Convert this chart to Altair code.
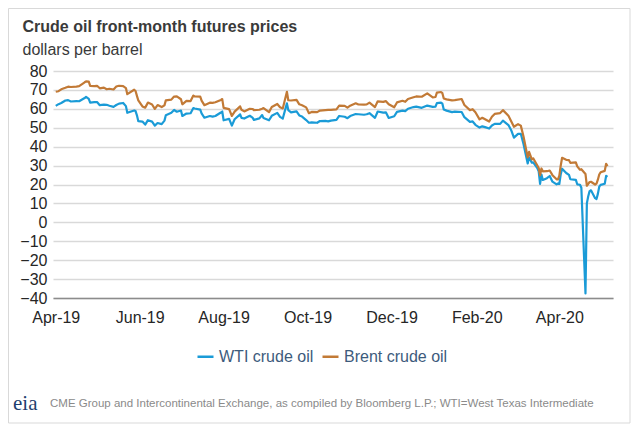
import altair as alt
import pandas as pd

# ---------------- data ----------------
dates = [
    "2019-04-01", "2019-04-03", "2019-04-05", "2019-04-08", "2019-04-10", "2019-04-12",
    "2019-04-16", "2019-04-18", "2019-04-22", "2019-04-23", "2019-04-25", "2019-04-26",
    "2019-04-29", "2019-05-01", "2019-05-03", "2019-05-06", "2019-05-08", "2019-05-10",
    "2019-05-13", "2019-05-15", "2019-05-17", "2019-05-20", "2019-05-22", "2019-05-23",
    "2019-05-28", "2019-05-29", "2019-05-30", "2019-05-31", "2019-06-03", "2019-06-05",
    "2019-06-07", "2019-06-10", "2019-06-12", "2019-06-14", "2019-06-17", "2019-06-19",
    "2019-06-20", "2019-06-24", "2019-06-26", "2019-06-28", "2019-07-01", "2019-07-02",
    "2019-07-05", "2019-07-08", "2019-07-10", "2019-07-11", "2019-07-15", "2019-07-16",
    "2019-07-18", "2019-07-22", "2019-07-24", "2019-07-26", "2019-07-30", "2019-07-31",
    "2019-08-01", "2019-08-05", "2019-08-07", "2019-08-09", "2019-08-13", "2019-08-14",
    "2019-08-16", "2019-08-20", "2019-08-22", "2019-08-23", "2019-08-27", "2019-08-29",
    "2019-08-30", "2019-09-03", "2019-09-05", "2019-09-09", "2019-09-11", "2019-09-13",
    "2019-09-16", "2019-09-17", "2019-09-19", "2019-09-23", "2019-09-25", "2019-09-27",
    "2019-09-30", "2019-10-02", "2019-10-04", "2019-10-08", "2019-10-10", "2019-10-14",
    "2019-10-16", "2019-10-18", "2019-10-22", "2019-10-24", "2019-10-28", "2019-10-30",
    "2019-11-01", "2019-11-05", "2019-11-07", "2019-11-11", "2019-11-13", "2019-11-15",
    "2019-11-19", "2019-11-21", "2019-11-25", "2019-11-27", "2019-11-29", "2019-12-03",
    "2019-12-05", "2019-12-09", "2019-12-11", "2019-12-13", "2019-12-17", "2019-12-19",
    "2019-12-23", "2019-12-27", "2019-12-31", "2020-01-02", "2020-01-03", "2020-01-06",
    "2020-01-07", "2020-01-08", "2020-01-10", "2020-01-14", "2020-01-16", "2020-01-21",
    "2020-01-23", "2020-01-27", "2020-01-29", "2020-01-31", "2020-02-03", "2020-02-05",
    "2020-02-07", "2020-02-10", "2020-02-12", "2020-02-14", "2020-02-18", "2020-02-20",
    "2020-02-24", "2020-02-26", "2020-02-28", "2020-03-02", "2020-03-04", "2020-03-06",
    "2020-03-09", "2020-03-10", "2020-03-12", "2020-03-13", "2020-03-16", "2020-03-17",
    "2020-03-18", "2020-03-19", "2020-03-20", "2020-03-23", "2020-03-25", "2020-03-27",
    "2020-03-30", "2020-03-31", "2020-04-01", "2020-04-02", "2020-04-03", "2020-04-06",
    "2020-04-08", "2020-04-09", "2020-04-13", "2020-04-14", "2020-04-16", "2020-04-17",
    "2020-04-20", "2020-04-21", "2020-04-22", "2020-04-23", "2020-04-24", "2020-04-27",
    "2020-04-28", "2020-04-29", "2020-04-30", "2020-05-01", "2020-05-04", "2020-05-05",
    "2020-05-06",
]

wti = [
    61.59, 62.46, 63.08, 64.40, 64.61, 63.89, 64.05, 64.00, 65.70, 66.30, 65.21, 63.30,
    63.50, 63.60, 61.94, 62.25, 62.12, 61.66, 61.04, 62.02, 62.76, 63.10, 61.42, 57.91,
    59.14, 58.81, 56.59, 53.50, 53.25, 51.68, 53.99, 53.26, 51.14, 52.51, 51.93, 53.76,
    56.65, 57.90, 59.38, 58.47, 59.09, 56.25, 57.51, 57.66, 60.43, 60.20, 59.58, 57.62,
    55.30, 56.22, 55.88, 56.20, 58.05, 58.58, 53.95, 54.69, 51.09, 54.50, 57.10, 55.23,
    54.87, 56.34, 55.35, 54.17, 54.93, 56.71, 55.10, 53.94, 56.30, 57.85, 55.75, 54.85,
    62.90, 59.34, 58.13, 58.64, 56.49, 55.91, 54.07, 52.64, 52.81, 52.63, 53.55, 53.59,
    53.36, 53.78, 54.16, 56.23, 55.81, 55.06, 56.20, 57.23, 57.15, 56.86, 57.12, 57.72,
    55.21, 58.58, 58.01, 58.11, 55.17, 56.10, 58.43, 59.02, 58.76, 60.07, 60.94, 61.18,
    60.52, 61.72, 61.06, 61.18, 63.05, 63.27, 62.70, 59.61, 59.04, 58.23, 58.52, 58.34,
    55.59, 53.14, 53.33, 51.56, 50.11, 50.75, 50.32, 49.57, 51.17, 52.05, 52.05, 53.78,
    51.43, 48.73, 44.76, 46.75, 46.78, 41.28, 31.13, 34.36, 31.50, 31.73, 28.70, 26.95,
    20.37, 25.22, 22.43, 23.36, 24.49, 21.51, 20.09, 20.48, 20.31, 25.32, 28.34, 26.08,
    25.09, 22.76, 22.41, 20.11, 19.87, 18.27, -37.63, 10.01, 13.78, 16.50, 16.94, 12.78,
    12.34, 15.06, 18.84, 19.78, 20.39, 24.56, 23.99,
]

brent = [
    69.01, 69.31, 70.34, 71.10, 71.73, 71.55, 71.72, 71.97, 74.04, 74.51, 74.35, 72.15,
    72.04, 72.18, 70.85, 71.24, 70.37, 70.62, 70.23, 71.77, 72.21, 71.97, 70.99, 67.76,
    70.11, 69.45, 66.87, 64.49, 61.28, 60.63, 63.29, 62.29, 59.97, 62.01, 60.94, 61.82,
    64.45, 64.86, 66.49, 66.55, 65.06, 62.40, 64.23, 64.11, 67.01, 66.52, 66.48, 64.35,
    61.93, 63.26, 63.18, 63.46, 64.72, 65.17, 60.50, 59.81, 56.23, 58.53, 61.30, 59.48,
    58.64, 60.03, 59.92, 59.34, 59.51, 60.08, 60.43, 58.26, 60.95, 62.59, 60.81, 60.22,
    69.02, 64.55, 64.40, 64.77, 62.39, 61.91, 60.78, 57.69, 58.37, 58.24, 59.10, 59.35,
    59.42, 59.42, 59.70, 61.67, 61.57, 60.61, 61.69, 62.96, 62.29, 62.18, 62.37, 63.30,
    60.91, 63.97, 63.65, 64.06, 62.43, 60.82, 63.39, 64.25, 63.72, 65.22, 66.10, 66.54,
    66.39, 68.16, 66.00, 66.25, 68.60, 68.91, 68.27, 65.44, 64.98, 64.49, 64.62, 65.20,
    62.04, 59.32, 59.81, 58.16, 54.45, 55.28, 54.47, 53.27, 55.79, 57.32, 57.75, 59.31,
    56.30, 53.43, 50.52, 51.90, 51.13, 45.27, 34.36, 37.22, 33.22, 33.85, 30.05, 28.73,
    24.88, 28.47, 26.98, 27.03, 27.39, 24.93, 22.76, 22.74, 24.74, 29.94, 34.11, 33.05,
    32.84, 31.48, 31.74, 29.60, 27.82, 28.08, 25.57, 19.33, 20.37, 21.33, 21.44, 19.99,
    20.46, 22.54, 25.27, 26.44, 27.20, 30.97, 29.72,
]

series_names = ["WTI crude oil", "Brent crude oil"]
series_colors = ["#1a9bd7", "#c27a36"]

y_ticks = [-40, -30, -20, -10, 0, 10, 20, 30, 40, 50, 60, 70, 80]
x_tick_months = [(2019, 4), (2019, 6), (2019, 8), (2019, 10), (2019, 12), (2020, 2), (2020, 4)]
x_tick_format = "%b-%y"
x_domain = [(2019, 3, 30), (2020, 5, 10)]

title_text = "Crude oil front-month futures prices"
subtitle_text = "dollars per barrel"
source_text = ("CME Group and Intercontinental Exchange, as compiled by Bloomberg L.P.; "
               "WTI=West Texas Intermediate")
logo_text = "eia"

# ---------------- chart ----------------
FONT = "Liberation Sans"
W, H = 560, 227
PAD_L, PAD_T, PAD_R, PAD_B = 45, 63, 18, 126

df = pd.DataFrame({
    "date": dates + dates,
    "value": wti + brent,
    "series": [series_names[0]] * len(dates) + [series_names[1]] * len(dates),
})

x_values = [alt.DateTime(year=y, month=m, date=1, utc=True) for y, m in x_tick_months]
x_dom = [alt.DateTime(year=y, month=m, date=d, utc=True) for y, m, d in x_domain]

lines = alt.Chart(df).mark_line(strokeWidth=2.2, strokeJoin="round").encode(
    x=alt.X(
        "date:T",
        scale=alt.Scale(type="utc", domain=x_dom),
        axis=alt.Axis(
            values=x_values, labelExpr=f"utcFormat(datum.value, '{x_tick_format}')",
            title=None, grid=False, ticks=False, tickSize=0, domain=True,
            domainColor="#8c8c8c", domainWidth=1.5, labelFont=FONT, labelFontSize=16,
            labelColor="#262626", labelPadding=11, labelFlush=False, labelOverlap=False,
        ),
    ),
    y=alt.Y(
        "value:Q",
        scale=alt.Scale(domain=[-40, 80], nice=False, zero=False),
        axis=alt.Axis(
            values=y_ticks, title=None, grid=True, gridColor="#d9d9d9", gridWidth=1.5,
            ticks=False, tickSize=0, domain=False, labelFont=FONT, labelFontSize=16,
            labelColor="#262626", labelPadding=6,
        ),
    ),
    color=alt.Color(
        "series:N",
        scale=alt.Scale(domain=series_names, range=series_colors),
        legend=alt.Legend(
            title=None, orient="none", direction="horizontal", legendX=143, legendY=276,
            symbolType="stroke", symbolSize=256, symbolStrokeWidth=2.5,
            labelFont=FONT, labelFontSize=16, labelColor="#3d5b7c", labelOffset=4,
            columnPadding=3, padding=0,
        ),
    ),
)


def label(text, x, y, size, color, weight="normal", font=FONT, align="left"):
    return alt.Chart(pd.DataFrame({"t": [text]})).mark_text(
        align=align, baseline="alphabetic", font=font, fontSize=size,
        fontWeight=weight, color=color,
    ).encode(x=alt.value(x), y=alt.value(y), text="t:N")


frame = alt.Chart(pd.DataFrame({"k": [0]})).mark_rect(
    fillOpacity=0, stroke="#d9d9d9", strokeWidth=1
).encode(
    x=alt.value(-PAD_L + 0.5), x2=alt.value(W + PAD_R - 1),
    y=alt.value(-PAD_T + 0.5), y2=alt.value(H + PAD_B - 1),
)

title = label(title_text, -30.5, -39, 16, "#3a3a3a", weight="bold")
subtitle = label(subtitle_text, -30.5, -16, 16, "#3a3a3a")
source = label(source_text, -3, 336, 11.5, "#8a8a8a")
logo = label(logo_text, -40, 339, 21, "#1f3f6e", font="Liberation Serif")

chart = alt.layer(frame, lines, title, subtitle, source, logo).properties(
    width=W, height=H,
    autosize=alt.AutoSizeParams(type="none"),
    padding={"left": PAD_L, "top": PAD_T, "right": PAD_R, "bottom": PAD_B},
    background="white",
).configure_view(stroke=None)

chart.save("out.html", embed_options={"renderer": "svg", "actions": False})
